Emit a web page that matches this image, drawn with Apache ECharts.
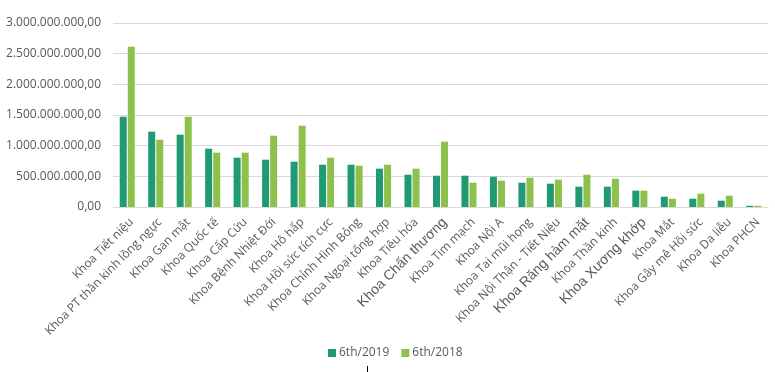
<!DOCTYPE html>
<html><head><meta charset="utf-8">
<script src="https://cdn.jsdelivr.net/npm/echarts@6/dist/echarts.min.js"></script>
<style>html,body{margin:0;padding:0;background:#fff}#c{width:775px;height:372px}</style>
</head><body><div id="c"></div>
<script>
const categories = ["Khoa Tiết niệu","Khoa PT thần kinh lồng ngực","Khoa Gan mật","Khoa Quốc tế","Khoa Cấp Cứu","Khoa Bệnh Nhiệt Đới","Khoa Hô hấp","Khoa Hồi sức tích cực","Khoa Chỉnh Hình Bỏng","Khoa Ngoại tổng hợp","Khoa Tiêu hóa","Khoa Chấn thương","Khoa Tim mạch","Khoa Nội A","Khoa Tai mũi họng","Khoa Nội Thận - Tiết Niệu","Khoa Răng hàm mặt","Khoa Thần kinh","Khoa Xương khớp","Khoa Mắt","Khoa Gây mê Hồi sức","Khoa Da liễu","Khoa PHCN"];
const bigLabels = ["Khoa Chấn thương","Khoa Răng hàm mặt","Khoa Xương khớp"];
const series2019 = [1472e6,1228e6,1179e6,951e6,804e6,771e6,739e6,690e6,690e6,625e6,527e6,510e6,510e6,494e6,396e6,380e6,331e6,331e6,266e6,168e6,135e6,103e6,20e6];
const series2018 = [2614e6,1097e6,1472e6,886e6,886e6,1163e6,1326e6,804e6,674e6,690e6,625e6,1065e6,396e6,429e6,478e6,445e6,527e6,461e6,266e6,135e6,217e6,184e6,20e6];
const seriesNames = ["6th/2019","6th/2018"];
const yTicks = {min:0,max:3000000000,interval:500000000};

function fmt(v){
  const s = Math.round(v).toString().replace(/\B(?=(\d{3})+(?!\d))/g,".");
  return s + ",00";
}
const chart = echarts.init(document.getElementById('c'), null, {renderer:'canvas'});
chart.setOption({
  animation:false,
  textStyle:{fontFamily:"Open Sans"},
  grid:{left:113,right:7,top:23,height:184},
  legend:{
    bottom:8,left:323,itemWidth:8,itemHeight:8,itemGap:12,
    icon:'rect',
    textStyle:{color:'#595959',fontSize:12,fontFamily:"Open Sans",padding:[0,0,0,-2]},
    data:seriesNames
  },
  xAxis:{
    type:'category',data:categories,
    axisLine:{lineStyle:{color:'#d9d9d9'}},
    axisTick:{show:false},
    axisLabel:{
      rotate:45,interval:0,color:'#595959',fontSize:12,margin:9,padding:[12,0,0,0],
      formatter:function(v){return bigLabels.indexOf(v)>=0 ? '{b|'+v+'}' : v;},
      rich:{b:{fontFamily:'Liberation Sans',fontSize:14,color:'#595959'}}
    }
  },
  yAxis:{
    type:'value',min:yTicks.min,max:yTicks.max,interval:yTicks.interval,
    axisLine:{show:false},axisTick:{show:false},
    splitLine:{lineStyle:{color:'#d9d9d9'}},
    axisLabel:{color:'#595959',fontSize:12,margin:12,formatter:fmt}
  },
  series:[
    {name:seriesNames[0],type:'bar',data:series2019,barWidth:7,barGap:'15%',itemStyle:{color:'#1F9A74'}},
    {name:seriesNames[1],type:'bar',data:series2018,barWidth:7,itemStyle:{color:'#8DC14B'}}
  ],
  graphic:[{type:'line',shape:{x1:367.5,y1:366,x2:367.5,y2:372},style:{stroke:'#000',lineWidth:1}}]
});
</script></body></html>
